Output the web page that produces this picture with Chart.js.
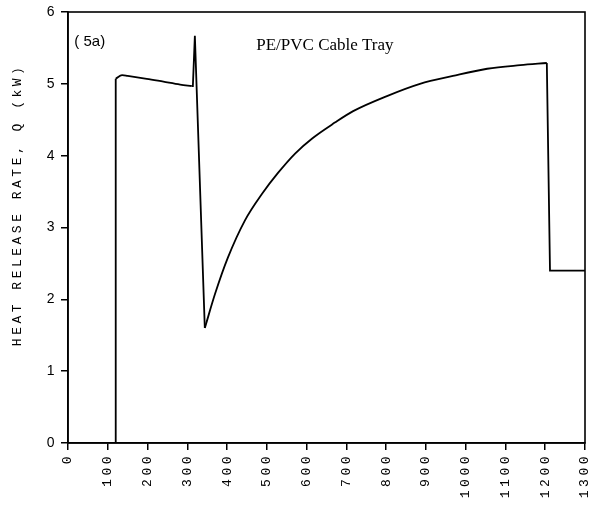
<!DOCTYPE html>
<html>
<head>
<meta charset="utf-8">
<script src="https://cdn.jsdelivr.net/npm/chart.js@4"></script>
<style>
html,body{margin:0;padding:0;background:#fff;}
#wrap{width:598px;height:505px;}
</style>
</head>
<body>
<div id="wrap"><canvas id="c" width="598" height="505"></canvas></div>
<script>
// Time (s) and heat release rate Q (kW)
const timeSec = [0, 120, 120, 136, 150, 198, 240, 282, 311, 314, 319, 344, 370, 402, 445, 488, 528, 571, 614, 671, 717, 802, 885, 968, 1054, 1137, 1204, 1212, 1300];
const heatKW  = [0, 0, 5.07, 5.12, 5.11, 5.07, 5.03, 4.99, 4.97, 4.97, 5.67, 1.6, 2.08, 2.58, 3.10, 3.47, 3.76, 4.03, 4.24, 4.46, 4.62, 4.83, 5.0, 5.11, 5.21, 5.26, 5.29, 2.4, 2.4];
// index ranges of the curve: sharp steps vs smooth stretches
const stepParts   = [[0,2],[8,11],[26,28]];
const smoothParts = [[2,8],[11,26]];
const xTicks = [0,100,200,300,400,500,600,700,800,900,1000,1100,1200,1300];
const yTicks = [0,1,2,3,4,5,6];
const yTitle = "HEAT RELEASE RATE, Q (kW)";
const panelLabel = "( 5a)";
const seriesLabel = "PE/PVC Cable Tray";

const points = timeSec.map((t,i)=>({x:t,y:heatKW[i]}));
const datasets = [];
stepParts.forEach(([a,b])=>datasets.push({ data:points.slice(a,b+1), borderColor:'#000', borderWidth:1.8, pointRadius:0, tension:0, fill:false }));
smoothParts.forEach(([a,b])=>datasets.push({ data:points.slice(a,b+1), borderColor:'#000', borderWidth:1.8, pointRadius:0, cubicInterpolationMode:'monotone', fill:false }));

const spacingPlugin = {
  id:'spacing',
  beforeUpdate(chart){ chart.ctx.letterSpacing = '3.5px'; },
  beforeDraw(chart){ chart.ctx.letterSpacing = '3.5px'; },
  afterDraw(chart){
    const {ctx, chartArea:a, scales} = chart;
    ctx.save();
    ctx.strokeStyle = '#000';
    ctx.lineWidth = 1.6;
    ctx.strokeRect(a.left, a.top, a.right-a.left, a.bottom-a.top);
    ctx.letterSpacing = '0px';
    ctx.fillStyle = '#000';
    ctx.textBaseline = 'middle';
    ctx.textAlign = 'left';
    ctx.font = '15px "Liberation Sans", Arial, sans-serif';
    ctx.fillText(panelLabel, scales.x.getPixelForValue(16), scales.y.getPixelForValue(5.58));
    ctx.font = '17px "Liberation Serif", "Times New Roman", serif';
    ctx.textAlign = 'center';
    ctx.fillText(seriesLabel, scales.x.getPixelForValue(646), scales.y.getPixelForValue(5.53));
    ctx.restore();
  }
};

new Chart(document.getElementById('c'), {
  type:'line',
  data:{ datasets },
  options:{
    responsive:false,
    animation:false,
    layout:{ padding:{ left:10, right:13, top:12, bottom:0 } },
    plugins:{ legend:{display:false}, tooltip:{enabled:false} },
    scales:{
      x:{
        type:'linear', min:0, max:1300,
        afterBuildTicks(s){ s.ticks = xTicks.map(v=>({value:v})); },
        afterFit(s){ s.height = 62; s.paddingLeft = 0; s.paddingRight = 0; },
        border:{ display:true, color:'#000', width:1.6 },
        grid:{ display:true, drawOnChartArea:false, drawTicks:true, tickLength:7, color:'#000', lineWidth:1.5 },
        ticks:{ color:'#000', minRotation:90, maxRotation:90, padding:3, autoSkip:false,
                callback:(v)=>String(v),
                font:{ family:'"Liberation Mono", "Courier New", monospace', size:13 } }
      },
      y:{
        type:'linear', min:0, max:6,
        afterBuildTicks(s){ s.ticks = yTicks.map(v=>({value:v})); },
        afterFit(s){ s.width = 58; },
        border:{ display:true, color:'#000', width:1.6 },
        grid:{ display:true, drawOnChartArea:false, drawTicks:true, tickLength:7, color:'#000', lineWidth:1.5 },
        ticks:{ color:'#000', padding:3, font:{ family:'"Liberation Sans", Arial, sans-serif', size:14 } },
        title:{ display:true, text:'    '+yTitle, color:'#000', padding:{top:0,bottom:0},
                font:{ family:'"Liberation Mono", "Courier New", monospace', size:13 } }
      }
    }
  },
  plugins:[spacingPlugin]
});
</script>
</body>
</html>
